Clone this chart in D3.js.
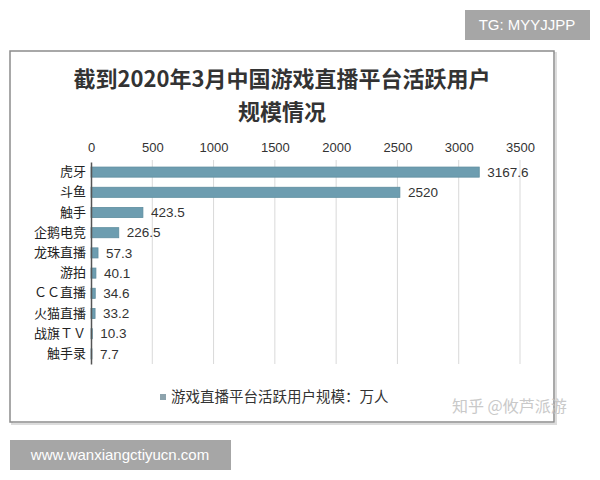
<!DOCTYPE html>
<html lang="zh">
<head>
<meta charset="utf-8"/>
<title>游戏直播平台活跃用户</title>
<style>
    body { margin: 0; background: #fff; }
    svg { display: block; }
    .cjk { font-family: "Noto Sans CJK SC", sans-serif; }
    .num { font-family: "Liberation Sans", Arial, sans-serif; }
    .grid line { stroke: #d9d9d9; stroke-width: 1px; }
    .tick-top text { fill: #333; font-size: 13px; }
</style>
</head>
<body>
<div class="viz"></div>
<script src="https://cdnjs.cloudflare.com/ajax/libs/d3/7.8.5/d3.min.js"></script>
<script>

var platforms = ["虎牙", "斗鱼", "触手", "企鹅电竞", "龙珠直播", "游拍", "ＣＣ直播", "火猫直播", "战旗ＴＶ", "触手录"];
var users = [3167.6, 2520, 423.5, 226.5, 57.3, 40.1, 34.6, 33.2, 10.3, 7.7];
var userLabels = ["3167.6", "2520", "423.5", "226.5", "57.3", "40.1", "34.6", "33.2", "10.3", "7.7"];
var xTicks = [0, 500, 1000, 1500, 2000, 2500, 3000, 3500];
var titleLines = ["截到2020年3月中国游戏直播平台活跃用户", "规模情况"];
var legendText = "游戏直播平台活跃用户规模：万人";

var W = 600, H = 480;
var svg = d3.select(".viz").append("svg")
    .attr("width", W)
    .attr("height", H);

// frame with a faint shadow
svg.append("rect")
    .attr("x", 12).attr("y", 53)
    .attr("width", 544).attr("height", 371)
    .attr("fill", "none")
    .attr("stroke", "#dcdcdc")
    .attr("stroke-width", 2);
svg.append("rect")
    .attr("x", 10).attr("y", 51)
    .attr("width", 544).attr("height", 371)
    .attr("fill", "#fff")
    .attr("stroke", "#8c8c8c")
    .attr("stroke-width", 1.5);

// title
svg.append("g").selectAll("text")
    .data(titleLines)
    .enter().append("text")
    .attr("class", "cjk")
    .attr("x", 282)
    .attr("y", function(d, i) { return 79 + i * 33; })
    .attr("dy", "0.35em")
    .attr("text-anchor", "middle")
    .attr("font-size", "22px")
    .attr("font-weight", "bold")
    .attr("fill", "#333")
    .text(function(d) { return d; });

var x = d3.scaleLinear()
    .domain([0, 3500])
    .range([91, 520]);

var y = d3.scaleBand()
    .domain(platforms)
    .range([162, 364])
    .paddingInner(0.5)
    .paddingOuter(0.25);

// gridlines
svg.append("g")
    .attr("class", "grid")
    .selectAll("line")
    .data(xTicks.slice(1))
    .enter().append("line")
    .attr("x1", function(d) { return x(d); })
    .attr("x2", function(d) { return x(d); })
    .attr("y1", 160)
    .attr("y2", 364);

// top axis labels
var xAxis = d3.axisTop(x)
    .tickValues(xTicks)
    .tickFormat(d3.format("d"))
    .tickSize(0)
    .tickPadding(0);

var axG = svg.append("g")
    .attr("class", "tick-top num")
    .attr("transform", "translate(0,152)")
    .call(xAxis);
axG.select(".domain").remove();
axG.selectAll("text").attr("font-family", "Liberation Sans, Arial, sans-serif").attr("font-size", "13.5px");

// bars
svg.append("g").selectAll("rect")
    .data(users)
    .enter().append("rect")
    .attr("x", x(0))
    .attr("y", function(d, i) { return y(platforms[i]); })
    .attr("width", function(d) { return x(d) - x(0); })
    .attr("height", y.bandwidth())
    .attr("fill", "#6d9db0")
    .attr("stroke", "#5e8d9f")
    .attr("stroke-width", 0.8);

// value labels
svg.append("g").selectAll("text")
    .data(users)
    .enter().append("text")
    .attr("class", "num")
    .attr("x", function(d) { return x(d) + 8; })
    .attr("y", function(d, i) { return y(platforms[i]) + y.bandwidth() / 2; })
    .attr("dy", "0.35em")
    .attr("font-size", "13.5px")
    .attr("fill", "#333")
    .text(function(d, i) { return userLabels[i]; });

// category axis
var yAxis = d3.axisLeft(y).tickSize(0).tickPadding(5);
var ayG = svg.append("g")
    .attr("transform", "translate(" + x(0) + ",0)")
    .call(yAxis);
ayG.select(".domain")
    .attr("stroke", "#555")
    .attr("stroke-width", 1.5);
ayG.selectAll("text")
    .attr("class", "cjk")
    .attr("font-size", "13px")
    .attr("fill", "#222");

// legend
svg.append("rect")
    .attr("x", 160).attr("y", 394)
    .attr("width", 6).attr("height", 6)
    .attr("fill", "#8da3ad");
svg.append("text")
    .attr("class", "cjk")
    .attr("x", 171).attr("y", 397)
    .attr("dy", "0.35em")
    .attr("font-size", "14.5px")
    .attr("fill", "#333")
    .text(legendText);

// watermark
svg.append("text")
    .attr("class", "cjk")
    .attr("x", 452).attr("y", 406)
    .attr("dy", "0.35em")
    .attr("font-size", "16px")
    .attr("fill", "#c4c4c4")
    .attr("opacity", 0.9)
    .text("知乎 @攸芦派游");

// corner badges
svg.append("rect")
    .attr("x", 465).attr("y", 10)
    .attr("width", 125).attr("height", 30)
    .attr("fill", "#a6a6a6");
svg.append("text")
    .attr("class", "num")
    .attr("x", 527).attr("y", 25)
    .attr("dy", "0.35em")
    .attr("text-anchor", "middle")
    .attr("font-size", "15px")
    .attr("fill", "#fff")
    .text("TG: MYYJJPP");

svg.append("rect")
    .attr("x", 10).attr("y", 440)
    .attr("width", 221).attr("height", 30)
    .attr("fill", "#a6a6a6");
svg.append("text")
    .attr("class", "num")
    .attr("x", 120).attr("y", 455)
    .attr("dy", "0.35em")
    .attr("text-anchor", "middle")
    .attr("font-size", "15px")
    .attr("fill", "#fff")
    .text("www.wanxiangctiyucn.com");

</script>
</body>
</html>
